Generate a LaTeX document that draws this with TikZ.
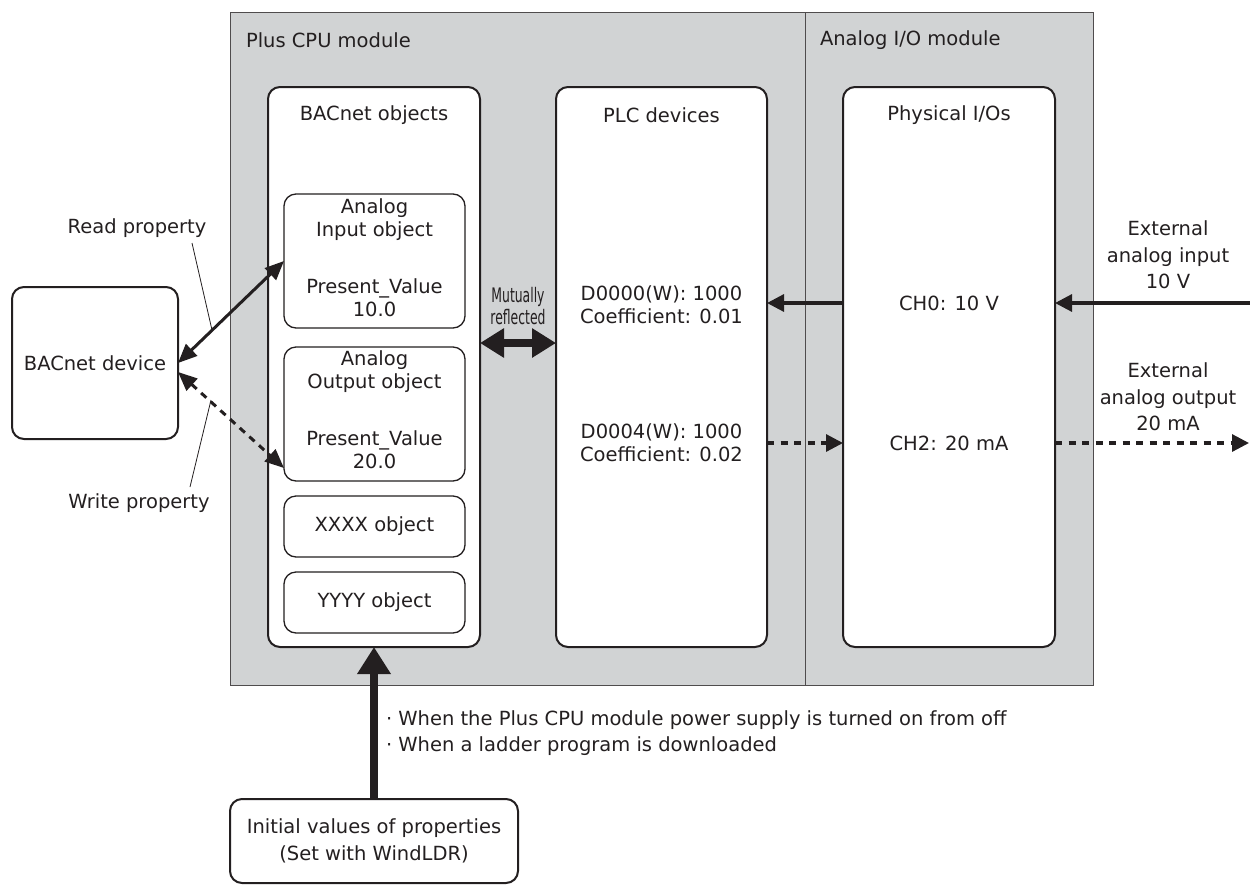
\documentclass[tikz,border=0pt]{standalone}
\usepackage{fontspec}
\usepackage{graphicx}
\setmainfont{DejaVu Sans}
\usetikzlibrary{arrows.meta}
\definecolor{bggray}{HTML}{D1D3D4}
\definecolor{ink}{HTML}{231F20}
\begin{document}
\begin{tikzpicture}[x=1pt,y=-1pt,
  every node/.style={text=ink, font=\fontsize{19.5}{23}\selectfont, inner sep=0pt, outer sep=0pt},
  bigbox/.style={draw=ink, line width=2pt, rounded corners=12pt, fill=white},
  smallbox/.style={draw=ink, line width=1.3pt, rounded corners=12pt, fill=white},
  arr/.style={draw=ink, line width=3.2pt, -{Triangle[length=17pt,width=17pt]}},
  darr/.style={draw=ink, line width=3.2pt, dash pattern=on 7pt off 6.5pt, -{Triangle[length=17pt,width=17pt]}},
  rwarr/.style={draw=ink, line width=3pt, {Triangle[length=19pt,width=16pt]}-{Triangle[length=19pt,width=16pt]}},
  rwdarr/.style={draw=ink, line width=3pt, dash pattern=on 7pt off 6pt, {Triangle[length=19pt,width=16pt]}-{Triangle[length=19pt,width=16pt]}},
  mutual/.style={draw=ink, line width=8pt, {Triangle[length=24pt,width=28pt]}-{Triangle[length=24pt,width=28pt]}},
  bigup/.style={draw=ink, line width=7.5pt, -{Triangle[length=27pt,width=32pt]}},
  leader/.style={draw=ink, line width=0.8pt},
  wide/.style={font=\fontsize{19.5}{26.5}\selectfont}
]
\useasboundingbox (0,0) rectangle (1250,884);

% modules background
\draw[fill=bggray, draw=ink!80, line width=1pt] (230,12) rectangle (1093,685);
\draw[draw=ink!80, line width=1pt] (805,12) -- (805,685);
\node[anchor=west] (cpu) at (246,40) {Plus CPU module};
\node[anchor=west] (aio) at (820,40) {Analog I/O module};

% big boxes
\node[bigbox, minimum width=212pt, minimum height=560pt] (bo) at (374,367) {};
\node[bigbox, minimum width=211pt, minimum height=560pt] (plc) at (661.5,367) {};
\node[bigbox, minimum width=212pt, minimum height=560pt] (phys) at (949,367) {};
\node (bot) at (374,115) {BACnet objects};
\node (plct) at (661.5,115) {PLC devices};
\node (pht) at (949,115) {Physical I/Os};

% inner boxes
\node[smallbox, minimum width=181pt, minimum height=134pt] (ai) at (374.5,261) {};
\node[smallbox, minimum width=181pt, minimum height=134pt] (ao) at (374.5,414) {};
\node[smallbox, minimum width=181pt, minimum height=61pt] (xx) at (374.5,526.5) {XXXX object};
\node[smallbox, minimum width=181pt, minimum height=61pt] (yy) at (374.5,602.5) {YYYY object};
\node[align=center] (ait1) at (374.5,219.5) {Analog\\Input object};
\node[align=center] (ait2) at (374.5,298) {Present\_Value\\10.0};
\node[align=center] (aot1) at (374.5,371.5) {Analog\\Output object};
\node[align=center] (aot2) at (374.5,450) {Present\_Value\\20.0};

% PLC texts
\node[align=center] (d0) at (661.5,304.5) {D0000(W): 1000\\Coefficient: 0.01};
\node[align=center] (d4) at (661.5,442.5) {D0004(W): 1000\\Coefficient: 0.02};

% physical texts
\node (ch0) at (949,303) {CH0: 10 V};
\node (ch2) at (949,443) {CH2: 20 mA};

% BACnet device
\node[bigbox, minimum width=166pt, minimum height=152pt] (dev) at (95,363) {BACnet device};

% initial values
\node[bigbox, minimum width=288pt, minimum height=84pt, align=center, wide] (init) at (374,841) {Initial values of properties\\(Set with WindLDR)};

% mutually reflected
\node[align=center, font=\fontsize{20}{22.5}\selectfont] (mr) at (518,306) {\scalebox{0.62}[1]{Mutually}\\\scalebox{0.62}[1]{reflected}};
\coordinate (mry) at (0,343);
\draw[mutual] (bo.east |- mry) -- (plc.west |- mry);

% connections PLC <-> physical
\coordinate (y0) at (0,303);
\coordinate (y2) at (0,443);
\draw[arr] (phys.west |- y0) -- (plc.east |- y0);
\draw[darr] (plc.east |- y2) -- (phys.west |- y2);

% external
\node[align=center, wide] (extin) at (1168,255) {External\\analog input\\10 V};
\node[align=center, wide] (extout) at (1168,397) {External\\analog output\\20 mA};
\coordinate (inend) at (1250,303);
\coordinate (outend) at (1249,443);
\draw[arr] (inend) -- (phys.east |- y0);
\draw[darr] (phys.east |- y2) -- (outend);

% read/write property
\draw[rwarr] (dev.east) -- (ai.west);
\draw[rwdarr] ([yshift=-9pt]dev.east) -- ([yshift=-54pt]ao.west);
\node (rp) at (137,228) {Read property};
\node (wp) at (139,503) {Write property};
\coordinate (rpa) at (192,243);
\coordinate (rpb) at (212,330);
\coordinate (wpa) at (190,487);
\coordinate (wpb) at (211,400);
\draw[leader] (rpa) -- (rpb);
\draw[leader] (wpa) -- (wpb);

% initial values arrow
\draw[bigup] (init.north) -- (bo.south);
\node[anchor=west, align=left, wide] (cond) at (386,733) {· When the Plus CPU module power supply is turned on from off\\· When a ladder program is downloaded};
\end{tikzpicture}
\end{document}
